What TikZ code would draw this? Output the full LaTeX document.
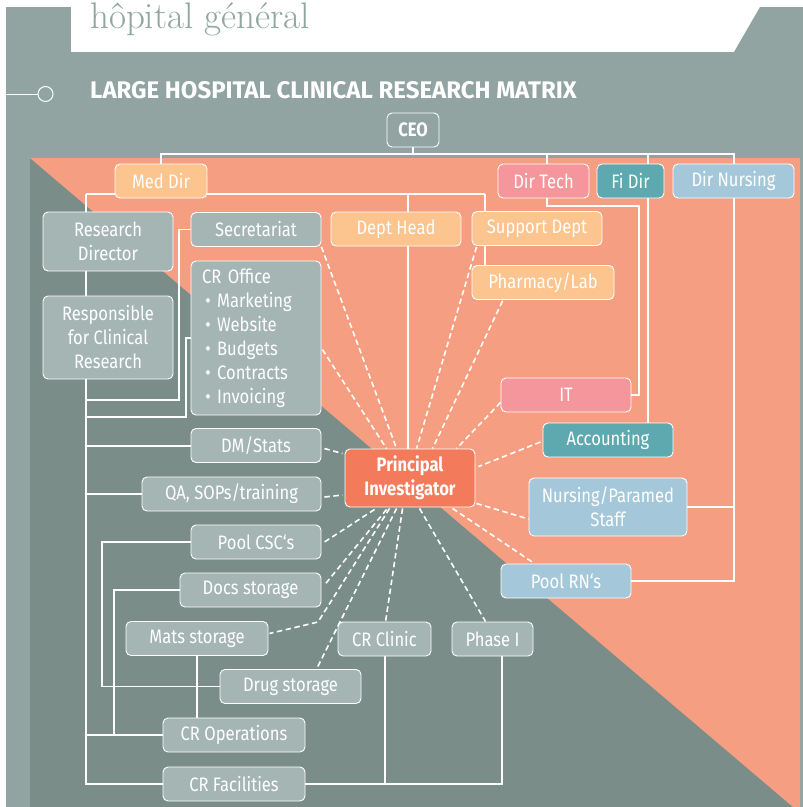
\documentclass[tikz,border=0pt]{standalone}
\usepackage{fontspec}
\newfontfamily\boxfont[FakeStretch=0.85]{Fira Sans}
\newfontfamily\headfont{Fira Sans}
\usetikzlibrary{calc}
\definecolor{bggrey}{HTML}{92A4A1}
\definecolor{darkgrey}{HTML}{7A8D89}
\definecolor{salmon}{HTML}{F69E81}
\definecolor{boxgrey}{HTML}{A4B5B3}
\definecolor{peach}{HTML}{FCC48E}
\definecolor{pinkc}{HTML}{F4969B}
\definecolor{tealc}{HTML}{5EA9AF}
\definecolor{bluec}{HTML}{A4C8DA}
\definecolor{picol}{HTML}{F37A5B}
\definecolor{titlec}{HTML}{8FA6A1}
\pgfdeclarelayer{bgfill}
\pgfdeclarelayer{wires}
\pgfsetlayers{bgfill,wires,main}
\begin{document}
\begin{tikzpicture}[x=1pt,y=-1pt,
  conn/.style={draw=white, line width=2pt},
  thinconn/.style={draw=white, line width=1.4pt},
  dashconn/.style={draw=white, line width=1.6pt, dash pattern=on 5.5pt off 3.5pt},
  box/.style={draw=white, line width=0.9pt, rounded corners=5pt, text=white, align=center, inner sep=0pt,
    font=\boxfont\fontsize{19.5}{24}\selectfont},
  greybox/.style={box, fill=boxgrey},
  peachbox/.style={box, fill=peach},
  pinkbox/.style={box, fill=pinkc},
  tealbox/.style={box, fill=tealc},
  bluebox/.style={box, fill=bluec},
  h34/.style={minimum height=34pt},
]
\useasboundingbox (0,0) rectangle (803,807);

% ---------- nodes ----------
\node[anchor=base west, inner sep=0pt, text=titlec, font=\fontsize{37}{42}\selectfont] (brand) at (90,28.5) {hôpital général};
\node[anchor=base west, inner sep=0pt, text=white, font=\headfont\bfseries\fontsize{24}{28}\selectfont] (title) at (90,98) {LARGE HOSPITAL CLINICAL RESEARCH MATRIX};
\node[circle, draw=white, line width=1pt, fill=bggrey, minimum size=15pt, inner sep=0pt] (dot) at (45.5,94) {};
\coordinate (dotL) at (6,94);

\node[box, fill=bggrey, font=\boxfont\bfseries\fontsize{19.5}{24}\selectfont, minimum width=52pt, h34] (ceo) at (413,130) {CEO};
\node[peachbox, minimum width=92pt, h34] (meddir) at (161,181) {Med Dir};
\node[pinkbox, minimum width=91pt, h34] (dirtech) at (543.5,181) {Dir Tech};
\node[tealbox, minimum width=67pt, h34] (fidir) at (630.5,181) {Fi Dir};
\node[bluebox, minimum width=121pt, h34] (dirnurs) at (733.5,181) {Dir Nursing};

\node[greybox, minimum width=130pt, minimum height=59pt] (resdir) at (108,241.5) {Research\\Director};
\node[greybox, minimum width=130pt, minimum height=83pt] (resp) at (108,337.5) {Responsible\\for Clinical\\Research};
\node[greybox, minimum width=130pt, h34] (secr) at (256,229.5) {Secretariat};
\node[greybox, minimum width=130pt, minimum height=154pt, align=left, text width=108pt] (crof) at (256,338)
  {CR Office\\\,• Marketing\\\,• Website\\\,• Budgets\\\,• Contracts\\\,• Invoicing};
\node[peachbox, minimum width=130pt, h34] (depthead) at (396,229) {Dept Head};
\node[peachbox, minimum width=130pt, h34] (support) at (537,228.5) {Support Dept};
\node[peachbox, minimum width=142pt, h34] (pharm) at (543,282.5) {Pharmacy/Lab};
\node[pinkbox, minimum width=130pt, h34] (it) at (566,395) {IT};
\node[tealbox, minimum width=130pt, h34] (accounting) at (608,440) {Accounting};
\node[bluebox, minimum width=158pt, minimum height=58pt] (nursing) at (608,507) {Nursing/Paramed\\Staff};
\node[bluebox, minimum width=130pt, h34] (poolrn) at (566,581) {Pool RN‘s};

\node[box, fill=picol, font=\boxfont\bfseries\fontsize{19.5}{24}\selectfont, minimum width=130pt, minimum height=58pt] (pi) at (410,478) {Principal\\Investigator};

\node[greybox, minimum width=130pt, h34] (dm) at (256,445.5) {DM/Stats};
\node[greybox, minimum width=179pt, h34] (qa) at (231.5,494) {QA, SOPs/training};
\node[greybox, minimum width=130pt, h34] (poolcsc) at (256,542) {Pool CSC‘s};
\node[greybox, minimum width=141pt, h34] (docs) at (250.5,590) {Docs storage};
\node[greybox, minimum width=142pt, h34] (mats) at (197,638.5) {Mats storage};
\node[greybox, minimum width=93pt, h34] (crclinic) at (384.5,639) {CR Clinic};
\node[greybox, minimum width=81pt, h34] (phase) at (492.5,639) {Phase I};
\node[greybox, minimum width=141pt, h34] (drug) at (290.5,686.5) {Drug storage};
\node[greybox, minimum width=142pt, h34] (crops) at (234,735) {CR Operations};
\node[greybox, minimum width=142pt, h34] (crfac) at (234,784) {CR Facilities};

% ---------- background ----------
\begin{pgfonlayer}{bgfill}
\fill[white] (0,0) rectangle (803,807);
\fill[bggrey] (6,7) rectangle (71,60);
\fill[bggrey] (734,52) -- (760,7) -- (803,7) -- (803,52) -- cycle;
\fill[bggrey] (6,52) rectangle (803,807);
\fill[darkgrey] (30,158) rectangle (800,807);
\fill[salmon] (30,158) -- (800,158) -- (800,807) -- (793,807) -- cycle;
\end{pgfonlayer}

% ---------- connectors ----------
\begin{pgfonlayer}{wires}
\draw[white, line width=1pt] (dotL) -- (dot.west);
\coordinate (bus) at (413,154);
\draw[conn] (ceo.south) -- (bus);
\draw[conn] (meddir.north) |- (bus) -| (dirnurs.north);
\coordinate (xdt) at (547,154);
\draw[conn] (xdt) -- (xdt |- dirtech.north);
\coordinate (xfi) at (648,154);
\draw[conn] (xfi) -- (xfi |- accounting.north);
\coordinate (dtc) at (639,206);
\draw[thinconn] (xdt |- dirtech.south) |- (dtc) |- (it.east);
\draw[conn] (dirnurs.south) |- (poolrn.east);
\draw[conn] (nursing.east) -- (nursing.east -| dirnurs.south);

\coordinate (mdL) at (86,194);
\coordinate (mdR) at (485,194);
\coordinate (xdh) at (408,194);
\draw[conn] (mdL) -- (meddir.west |- mdL) -- (mdR);
\draw[conn] (mdR) -- (mdR |- pharm.north);
\draw[conn] (xdh) -- (xdh |- pi.north);
\draw[conn] (mdL) -- (mdL |- crfac.west) -- (crfac.west);

\coordinate (xs) at (179,400);
\draw[thinconn] (secr.west) -| (xs) -- (xs -| mdL);
\coordinate (xo) at (186,417);
\draw[thinconn] (crof.west) -| (xo) -- (xo -| mdL);
\draw[conn] (dm.west) -- (dm.west -| mdL);
\draw[conn] (qa.west) -- (qa.west -| mdL);
\coordinate (xp) at (102,0);
\draw[thinconn] (poolcsc.west) -| (xp |- drug.west) -- (drug.west);
\coordinate (xd) at (114,0);
\draw[thinconn] (docs.west) -| (xd |- crops.west);
\draw[conn] (crops.west) -- (crops.west -| mdL);
\draw[conn] (mats.south) -- (mats.south |- crops.north);
\draw[conn] (crclinic.south) -- (crclinic.south |- crfac.east);
\coordinate (xph) at (502,0);
\draw[conn] (crfac.east) -| (xph |- phase.south);

% dashed links to PI
\draw[dashconn] (secr.south east) -- ($(pi.north west)+(52,0)$);
\draw[dashconn] ($(crof.north east)+(1,89)$) -- ($(pi.north west)+(42,0)$);
\draw[dashconn] ($(support.south west)+(5,1)$) -- ($(pi.north west)+(72,0)$);
\draw[dashconn] ($(pharm.south west)+(31,1)$) -- ($(pi.north west)+(88,0)$);
\draw[dashconn] ($(it.south west)+(0,-10)$) -- ($(pi.north west)+(112,0)$);
\draw[dashconn] ($(accounting.west)+(-2,2)$) -- ($(pi.north east)+(3,18)$);
\draw[dashconn] ($(pi.south east)+(1,-4)$) -- ($(nursing.west)+(0,12)$);
\draw[dashconn] ($(pi.south west)+(108,1)$) -- ($(poolrn.north west)+(34,0)$);
\draw[dashconn] ($(pi.south west)+(75,1)$) -- ($(phase.north west)+(34,0)$);
\draw[dashconn] ($(pi.south west)+(58,1)$) -- ($(crclinic.north west)+(48,0)$);
\draw[dashconn] ($(pi.south west)+(52,1)$) -- ($(drug.north west)+(97,0)$);
\draw[dashconn] ($(pi.south west)+(45,1)$) -- (318,622) -- ($(mats.east)+(1,-5)$);
\draw[dashconn] ($(pi.south west)+(42,2)$) -- ($(docs.east)+(3,-5)$);
\draw[dashconn] ($(pi.south west)+(30,2)$) -- ($(poolcsc.east)+(3,0)$);
\draw[dashconn] ($(qa.east)+(3,3)$) -- ($(pi.west)+(-2,17)$);
\draw[dashconn] ($(dm.east)+(3,3)$) -- ($(pi.north west)+(-2,5)$);
\end{pgfonlayer}
\end{tikzpicture}
\end{document}
